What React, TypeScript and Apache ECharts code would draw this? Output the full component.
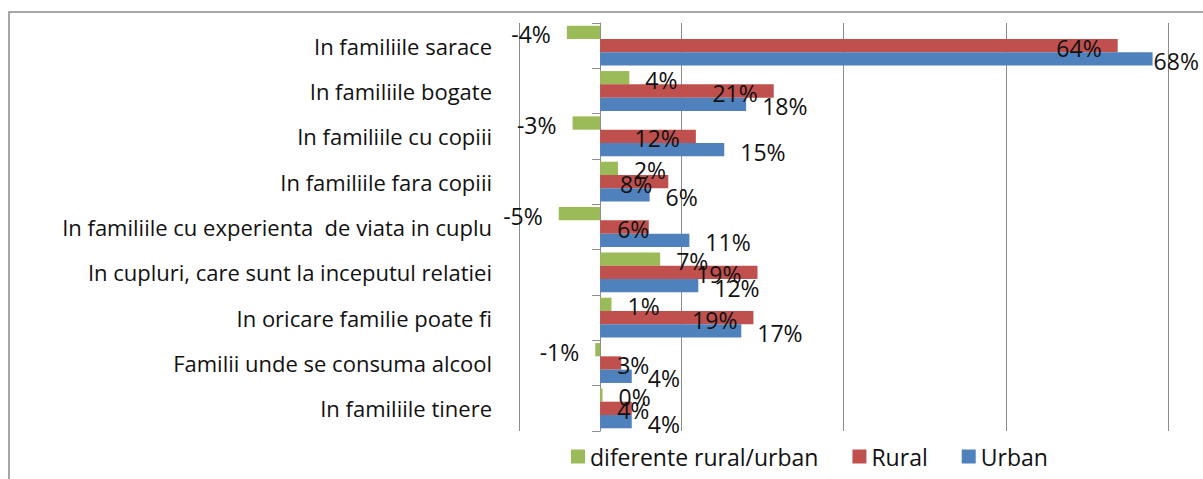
import React, { useEffect, useRef } from "react";
import * as echarts from "echarts";

const categories = [
  "In familiile sarace",
  "In familiile bogate",
  "In familiile cu copiii",
  "In familiile fara copiii",
  "In familiile cu experienta  de viata in cuplu",
  "In cupluri, care sunt la inceputul relatiei",
  "In oricare familie poate fi",
  "Familii unde se consuma alcool",
  "In familiile tinere",
];
const diffValues = [-4.1, 3.6, -3.4, 2.2, -5.1, 7.4, 1.4, -0.6, 0.3];
const ruralValues = [63.8, 21.4, 11.8, 8.4, 6.0, 19.4, 18.9, 2.6, 3.9];
const urbanValues = [68.1, 18.0, 15.3, 6.1, 11.0, 12.1, 17.4, 3.9, 3.9];
const seriesNames = ["diferente rural/urban", "Rural", "Urban"];
const xMin = -10;
const xMax = 70;
const xStep = 20;

const FONT = "Open Sans";
const fmt = (v: number) => Math.round(v) + "%";

export default function App() {
  const ref = useRef<HTMLDivElement>(null);
  useEffect(() => {
    document.body.style.margin = "0";
    const chart = echarts.init(ref.current!, null, { renderer: "svg" });
    const labelBase = {
      show: true,
      fontFamily: FONT,
      fontSize: 23,
      color: "#111",
      offset: [0, 2],
      formatter: (p: any) => fmt(p.value),
    };
    const diffData = diffValues.map((v) => ({
      value: v,
      label: { ...labelBase, position: v < 0 ? "left" : "right", distance: 16 },
    }));
    const ruralData = ruralValues.map((v) => ({
      value: v,
      label: {
        ...labelBase,
        position: v < 7 ? "insideLeft" : "insideRight",
        distance: v < 7 ? 17 : 16,
      },
    }));
    const urbanData = urbanValues.map((v) => ({
      value: v,
      label: { ...labelBase, position: "right", distance: v > 60 ? 1 : 16 },
    }));
    chart.setOption({
      animation: false,
      backgroundColor: "#fff",
      graphic: [
        {
          type: "rect",
          shape: { x: 9, y: 12, width: 1300, height: 600 },
          style: { fill: "none", stroke: "#8a8a8a", lineWidth: 1.5 },
          silent: true,
        },
      ],
      grid: { left: 519, right: 35, top: 23, bottom: 48, containLabel: false },
      legend: {
        left: 566,
        top: 440,
        icon: "rect",
        itemWidth: 14,
        itemHeight: 14,
        itemGap: 34,
        data: seriesNames,
        textStyle: { fontFamily: FONT, fontSize: 23, color: "#111" },
      },
      xAxis: {
        type: "value",
        min: xMin,
        max: xMax,
        interval: xStep,
        axisLine: { show: false },
        axisTick: { show: false },
        axisLabel: { show: false },
        splitLine: { show: true, lineStyle: { color: "#8c8c8c", width: 1 } },
      },
      yAxis: {
        type: "category",
        data: categories,
        inverse: true,
        axisLine: { show: true, onZero: true, lineStyle: { color: "#8c8c8c", width: 1 } },
        axisTick: { show: true, length: 8, lineStyle: { color: "#8c8c8c" } },
        axisLabel: {
          margin: 27,
          fontFamily: FONT,
          fontSize: 22,
          color: "#111",
        },
      },
      series: [
        {
          name: seriesNames[0],
          type: "bar",
          data: diffData,
          itemStyle: { color: "#9BBB59" },
          barGap: "0%",
          barCategoryGap: "12%",
        },
        {
          name: seriesNames[1],
          type: "bar",
          data: ruralData,
          itemStyle: { color: "#C0504D" },
          barGap: "0%",
          barCategoryGap: "12%",
        },
        {
          name: seriesNames[2],
          type: "bar",
          data: urbanData,
          itemStyle: { color: "#4F81BD" },
          barGap: "0%",
          barCategoryGap: "12%",
        },
      ],
    });
    return () => chart.dispose();
  }, []);
  return <div ref={ref} style={{ width: 1203, height: 479 }} />;
}
